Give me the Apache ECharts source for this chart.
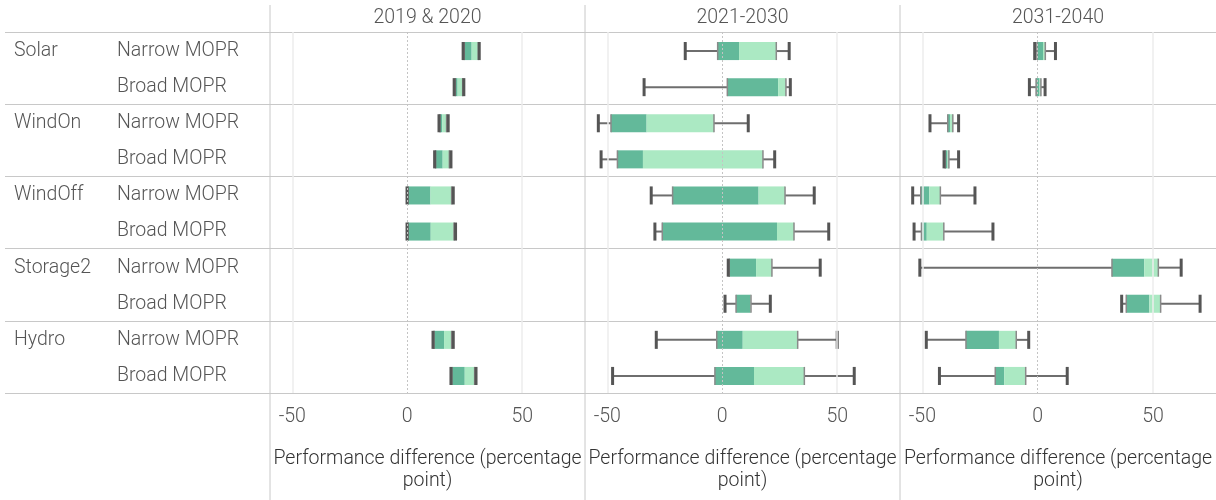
<!DOCTYPE html>
<html lang="en">
<head>
    <meta charset="UTF-8">
    <script src="https://cdn.jsdelivr.net/npm/echarts@6/dist/echarts.min.js"></script>
    <style>
        *{ margin: 0; padding: 0; }
        #chart { width: 1216px; height: 500px; background: #fff; }
    </style>
</head>
<body>
<div id="chart"></div>
<script>
    // rows: technology x MOPR type
    var groups = ['Solar', 'WindOn', 'WindOff', 'Storage2', 'Hydro'];
    var mopr = ['Narrow MOPR', 'Broad MOPR'];
    var periods = ['2019 & 2020', '2021-2030', '2031-2040'];
    var tickValues = [-50, 0, 50];

    // 2019 & 2020
    var lo1  = [24.3, 20.4, 13.8, 11.9, -0.1, -0.1, null, null, 11.2, 19.0];
    var q1_1 = [24.8, 20.9, 14.2, 12.3,  0.3,  0.3, null, null, 11.6, 19.4];
    var md1  = [28.0, 21.9, 15.2, 15.4, 10.1, 10.2, null, null, 16.0, 25.0];
    var q3_1 = [30.9, 24.1, 17.1, 18.3, 19.3, 20.3, null, null, 19.3, 29.3];
    var hi1  = [31.3, 24.6, 17.8, 19.0, 20.0, 21.0, null, null, 20.0, 29.9];

    // 2021-2030
    var lo2  = [-16.1, -34.0, -53.9, -52.7, -30.9, -29.3,  2.6,  1.2, -28.7, -47.7];
    var q1_2 = [ -2.0,   2.2, -48.4, -45.6, -21.6, -26.1,  3.0,  6.0,  -2.4,  -3.2];
    var md2  = [  7.3,  24.3, -32.9, -34.5,  15.8,  23.8, 14.7, 12.3,   8.9,  13.8];
    var q3_2 = [ 23.5,  27.7,  -3.6,  17.7,  27.3,  31.2, 21.6, 12.5,  32.8,  35.7];
    var hi2  = [ 29.1,  29.6,  11.3,  22.8,  40.0,  46.3, 42.6, 20.9,  50.0,  57.4];

    // 2031-2040
    var lo3  = [-1.3, -3.6, -46.7, -40.6, -54.2, -53.6, -51.1, 36.4, -48.3, -42.6];
    var q1_3 = [-0.3, -0.7, -39.0, -40.1, -50.7, -50.4,  32.2, 38.4, -31.1, -18.4];
    var md3  = [ 2.3,  0.8, -38.0, -39.1, -47.0, -48.1,  46.2, 48.4, -16.8, -14.5];
    var q3_3 = [ 3.3,  1.4, -36.8, -38.5, -42.2, -40.7,  52.3, 53.3,  -9.3,  -5.2];
    var hi3  = [ 7.7,  3.2, -34.3, -34.3, -27.2, -19.4,  62.2, 70.4,  -3.9,  12.8];

    var panelStats = [
        [lo1, q1_1, md1, q3_1, hi1],
        [lo2, q1_2, md2, q3_2, hi2],
        [lo3, q1_3, md3, q3_3, hi3]
    ];

    var rowSub = [], rowGroup = [];
    for (var g = 0; g < groups.length; g++) {
        for (var m = 0; m < mopr.length; m++) {
            rowSub.push(mopr[m]);
            rowGroup.push(m === 0 ? groups[g] : '');
        }
    }

    var FONT = 'Roboto, "Liberation Sans", Arial, sans-serif';
    var SEP = '#c8c8c8';
    var DARK = '#63b99a';
    var LIGHT = '#abe9c3';
    var txt = {color: '#555', fontSize: 19.5, fontFamily: FONT, fontWeight: 300};

    function renderBox(params, api) {
        var row = api.value(0);
        var pLo = api.coord([api.value(1), row]);
        var pQ1 = api.coord([api.value(2), row]);
        var pMd = api.coord([api.value(3), row]);
        var pQ3 = api.coord([api.value(4), row]);
        var pHi = api.coord([api.value(5), row]);
        var h = api.size([0, 1])[1] * 0.5;
        var y = pLo[1] + 1;
        var t = y - h / 2, b = y + h / 2;
        return {
            type: 'group',
            children: [
                {type: 'line', shape: {x1: pLo[0], y1: y, x2: pQ1[0], y2: y}, style: {stroke: '#6e6e6e', lineWidth: 2}},
                {type: 'line', shape: {x1: pQ3[0], y1: y, x2: pHi[0], y2: y}, style: {stroke: '#6e6e6e', lineWidth: 2}},
                {type: 'rect', shape: {x: pQ1[0], y: t, width: pMd[0] - pQ1[0], height: h}, style: {fill: DARK}},
                {type: 'rect', shape: {x: pMd[0], y: t, width: pQ3[0] - pMd[0], height: h}, style: {fill: LIGHT}},
                {type: 'line', shape: {x1: pQ1[0], y1: t, x2: pQ1[0], y2: b}, style: {stroke: '#8a8a8a', lineWidth: 1.5}},
                {type: 'line', shape: {x1: pQ3[0], y1: t, x2: pQ3[0], y2: b}, style: {stroke: '#8a8a8a', lineWidth: 1.5}},
                {type: 'line', shape: {x1: pLo[0], y1: t, x2: pLo[0], y2: b}, style: {stroke: '#555', lineWidth: 3}},
                {type: 'line', shape: {x1: pHi[0], y1: t, x2: pHi[0], y2: b}, style: {stroke: '#555', lineWidth: 3}}
            ]
        };
    }

    var lefts = [270, 585, 900];
    var widths = [315, 315, 316];
    var grid = [], xAxis = [], yAxis = [], series = [];

    var rowSplit = {
        show: true,
        interval: function (i) { return i % 2 === 0; },
        lineStyle: {color: SEP, width: 1.2}
    };

    for (var p = 0; p < 3; p++) {
        grid.push({left: lefts[p], top: 32, width: widths[p], height: 361});
        xAxis.push({
            type: 'value', gridIndex: p, min: -59.7, max: 77.3,
            axisLine: {show: false}, axisTick: {show: false}, splitLine: {show: false},
            axisLabel: Object.assign({customValues: tickValues, margin: 14}, txt),
            name: 'Performance difference (percentage\npoint)',
            nameLocation: 'middle', nameGap: 55,
            nameTextStyle: Object.assign({}, txt, {color: '#333', lineHeight: 22})
        });
        yAxis.push({
            type: 'category', gridIndex: p, data: rowSub, inverse: true,
            axisLine: {show: false}, axisTick: {show: false}, axisLabel: {show: false},
            splitLine: rowSplit
        });
    }
    for (var p2 = 0; p2 < 3; p2++) {
        xAxis.push({
            type: 'value', gridIndex: p2, position: 'top', min: -59.7, max: 77.3,
            axisLine: {show: false}, axisTick: {show: false}, splitLine: {show: false}, axisLabel: {show: false},
            name: periods[p2], nameLocation: 'middle', nameGap: 4,
            nameTextStyle: txt
        });
    }

    // label area on the left
    grid.push({left: 5, top: 33, width: 265, height: 361});
    xAxis.push({type: 'value', gridIndex: 3, show: false, min: 0, max: 1});
    yAxis.push({
        type: 'category', gridIndex: 3, data: rowSub, inverse: true, position: 'left',
        axisLine: {show: false}, axisTick: {show: false},
        axisLabel: Object.assign({inside: true, align: 'left', margin: 112, interval: 0}, txt),
        splitLine: {show: false}
    });
    yAxis.push({
        type: 'category', gridIndex: 3, data: rowGroup, inverse: true, position: 'left',
        axisLine: {show: false}, axisTick: {show: false},
        axisLabel: Object.assign({inside: true, align: 'left', margin: 9, interval: 0}, txt),
        splitLine: {show: false}
    });
    // separators for the label area
    grid.push({left: 5, top: 32, width: 265, height: 361});
    xAxis.push({type: 'value', gridIndex: 4, show: false, min: 0, max: 1});
    yAxis.push({
        type: 'category', gridIndex: 4, data: rowSub, inverse: true,
        axisLine: {show: false}, axisTick: {show: false}, axisLabel: {show: false},
        splitLine: rowSplit
    });

    for (var s = 0; s < 3; s++) {
        var st = panelStats[s];
        var data = [];
        for (var r = 0; r < rowSub.length; r++) {
            if (st[0][r] == null) continue;
            data.push([r, st[0][r], st[1][r], st[2][r], st[3][r], st[4][r]]);
        }
        // gridlines
        series.push({
            type: 'line', xAxisIndex: s, yAxisIndex: s, data: [], silent: true,
            markLine: {
                silent: true, symbol: ['none', 'none'], animation: false,
                label: {show: false},
                data: [
                    {xAxis: -50, lineStyle: {color: '#ececec', width: 1.5, type: 'solid'}},
                    {xAxis: 0, lineStyle: {color: '#c4c4c4', width: 1, type: [2, 2]}},
                    {xAxis: 50, lineStyle: {color: '#ececec', width: 1.5, type: 'solid'}}
                ]
            }
        });
        series.push({
            type: 'custom', xAxisIndex: s, yAxisIndex: s,
            renderItem: renderBox,
            encode: {x: [1, 2, 3, 4, 5], y: 0},
            data: data, z: 3
        });
    }

    // panel dividers
    var graphic = [];
    for (var d = 0; d < lefts.length; d++) {
        graphic.push({
            type: 'line', silent: true,
            shape: {x1: lefts[d], y1: 5, x2: lefts[d], y2: 500},
            style: {stroke: SEP, lineWidth: 1}
        });
    }

    var myChart = echarts.init(document.getElementById('chart'));
    myChart.setOption({
        animation: false,
        grid: grid,
        xAxis: xAxis,
        yAxis: yAxis,
        series: series,
        graphic: graphic
    });
</script>
</body>
</html>
